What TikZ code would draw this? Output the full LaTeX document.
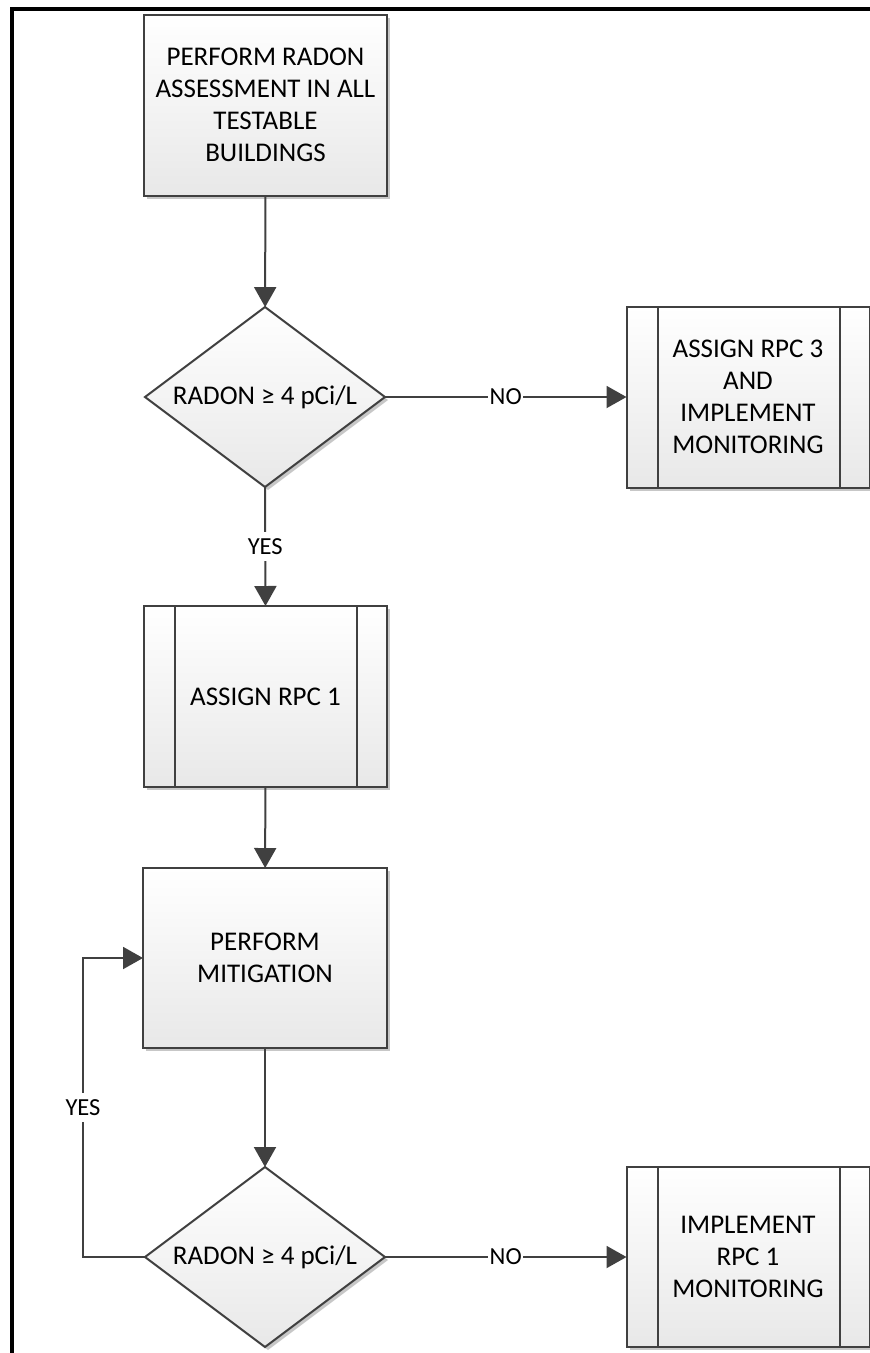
\documentclass[tikz,border=0pt]{standalone}
\usepackage{fontspec}
\setmainfont{Carlito}
\usetikzlibrary{shapes.geometric,arrows.meta,shadows}

\definecolor{edge}{RGB}{64,64,64}
\definecolor{boxbottom}{RGB}{232,232,232}

\tikzset{
  every node/.style={inner sep=0pt, outer sep=0pt},
  shapebase/.style={draw=edge, line width=2pt, top color=white, bottom color=boxbottom,
    drop shadow={shadow xshift=3pt, shadow yshift=-3pt, opacity=0.22, fill=black},
    font=\fontsize{27}{32}\selectfont, align=center},
  procbox/.style={shapebase, rectangle, minimum width=243pt, minimum height=181pt},
  subproc/.style={procbox},
  decision/.style={shapebase, diamond, minimum width=240pt, minimum height=180pt, aspect=1.333},
  flow/.style={draw=edge, line width=2pt, -{Triangle[length=20pt,width=22pt]}},
  sideline/.style={draw=edge, line width=2pt},
  answer/.style={fill=white, font=\fontsize{24.5}{28}\selectfont, inner xsep=1.5pt, inner ysep=6pt},
}

% inner bars of a predefined-process box
\newcommand{\procbars}[1]{%
  \draw[sideline] ([xshift=31pt]#1.north west) -- ([xshift=31pt]#1.south west);
  \draw[sideline] ([xshift=-30pt]#1.north east) -- ([xshift=-30pt]#1.south east);
}

\begin{document}
\begin{tikzpicture}[x=1pt, y=-1pt]
  \useasboundingbox (0,0) rectangle (870,1353);

  % outer frame (top and left sides)
  \draw[line width=4pt, line join=miter] (12,1360) -- (12,9) -- (875,9);

  % main column
  \node[procbox] (assess) at (265.5,105) {PERFORM RADON\\ASSESSMENT IN ALL\\TESTABLE\\BUILDINGS};
  \node[decision] (test1) at (265,397) {RADON ≥ 4 pCi/L};
  \node[subproc] (rpc3) at (748,397) {ASSIGN RPC 3\\AND\\IMPLEMENT\\MONITORING};
  \procbars{rpc3}
  \node[subproc] (rpc1) at (265.5,696.5) {ASSIGN RPC 1};
  \procbars{rpc1}
  \node[procbox, minimum width=244pt, minimum height=180pt] (mitig) at (265,958) {PERFORM\\MITIGATION};
  \node[decision] (test2) at (265,1257) {RADON ≥ 4 pCi/L};
  \node[subproc, minimum height=180pt] (mon) at (748,1257) {IMPLEMENT\\RPC 1\\MONITORING};
  \procbars{mon}

  % connectors
  \draw[flow] (assess) -- (test1);
  \draw[flow] (test1.east) -- node[answer] {NO} (rpc3.west);
  \draw[flow] (test1.south) -- node[answer] {YES} (rpc1.north);
  \draw[flow] (rpc1) -- (mitig);
  \draw[flow] (mitig) -- (test2);
  \draw[flow] (test2.east) -- node[answer] {NO} (mon.west);

  % retry loop back into mitigation
  \coordinate (loopc) at (83,958);
  \draw[flow] (test2.west) -| node[answer, pos=0.75] {YES} (loopc) -- (mitig.west);
\end{tikzpicture}
\end{document}
